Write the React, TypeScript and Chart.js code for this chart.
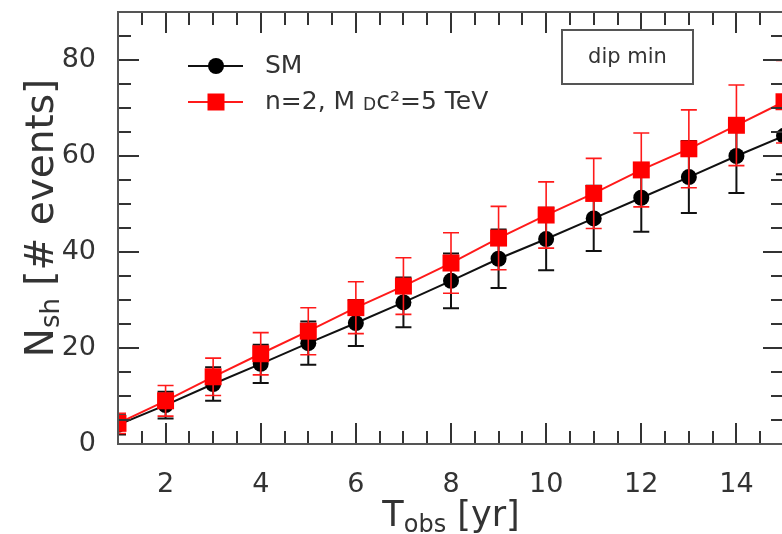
import React, { useEffect, useRef } from "react";
import { Chart, registerables } from "chart.js";

Chart.register(...registerables);

// ---- data ----
const years = [1, 2, 3, 4, 5, 6, 7, 8, 9, 10, 11, 12, 13, 14, 15];
const smValues = [4.0, 8.1, 12.5, 16.7, 21.0, 25.2, 29.5, 34.0, 38.6, 42.7, 47.0, 51.3, 55.6, 60.0, 64.2];
const smErrors = [2.0, 2.8, 3.5, 4.0, 4.5, 4.8, 5.2, 5.7, 6.1, 6.5, 6.8, 7.1, 7.5, 7.7, 8.0];
const bsmValues = [4.3, 9.0, 14.0, 18.8, 23.5, 28.4, 32.9, 37.7, 42.9, 47.7, 52.2, 57.1, 61.5, 66.4, 71.3];
const bsmErrors = [2.1, 3.2, 3.9, 4.4, 4.9, 5.4, 5.9, 6.3, 6.6, 6.9, 7.3, 7.7, 8.1, 8.4, 8.6];
const xTickLabels = [2, 4, 6, 8, 10, 12, 14];
const yTickLabels = [0, 20, 40, 60, 80];
const xRange = [1, 15];
const yRange = [0, 90];
const xMinorStep = 0.5;
const yMinorStep = 5;

const SM_LABEL = "SM";
const BSM_LABEL = "BSM";
const errorMap: Record<string, number[]> = { [SM_LABEL]: smErrors, [BSM_LABEL]: bsmErrors };

const FONT = "'DejaVu Sans', sans-serif";
const TEXT = "#333";

export default function App() {
  const ref = useRef<HTMLCanvasElement>(null);

  useEffect(() => {
    const canvas = ref.current!;

    const errorBars = {
      id: "errorBars",
      beforeDatasetDraw(chart: any, args: any) {
        const ds = chart.data.datasets[args.index];
        const errs = errorMap[ds.label];
        if (!errs) return;
        const ctx = chart.ctx;
        const ys = chart.scales.y;
        const area = chart.chartArea;
        ctx.save();
        ctx.beginPath();
        ctx.rect(area.left, area.top, area.right - area.left, area.bottom - area.top);
        ctx.clip();
        ctx.strokeStyle = ds.label === SM_LABEL ? "#111" : "#ff1a1a";
        ctx.lineWidth = ds.label === SM_LABEL ? 2 : 1.6;
        args.meta.data.forEach((pt: any, i: number) => {
          const v = ds.data[i].y;
          const e = errs[i];
          const yt = ys.getPixelForValue(v + e);
          const yb = ys.getPixelForValue(v - e);
          const x = pt.x;
          ctx.beginPath();
          ctx.moveTo(x, yt);
          ctx.lineTo(x, yb);
          ctx.moveTo(x - 8, yt);
          ctx.lineTo(x + 8, yt);
          ctx.moveTo(x - 8, yb);
          ctx.lineTo(x + 8, yb);
          ctx.stroke();
        });
        ctx.restore();
      },
    };

    const decor = {
      id: "decor",
      afterDraw(chart: any) {
        const ctx = chart.ctx;
        const { left, right, top, bottom } = chart.chartArea;
        const xs = chart.scales.x;
        const ys = chart.scales.y;
        ctx.save();
        // ticks
        ctx.strokeStyle = "#333";
        ctx.lineWidth = 2;
        const MAJ = 21;
        const MIN = 13;
        ctx.beginPath();
        for (let v = xRange[0] + xMinorStep; v < xRange[1] - 1e-9; v += xMinorStep) {
          const px = Math.round(xs.getPixelForValue(v));
          const len = xTickLabels.includes(v) ? MAJ : MIN;
          ctx.moveTo(px, bottom);
          ctx.lineTo(px, bottom - len);
          ctx.moveTo(px, top);
          ctx.lineTo(px, top + len);
        }
        for (let v = yRange[0] + yMinorStep; v < yRange[1] - 1e-9; v += yMinorStep) {
          const py = Math.round(ys.getPixelForValue(v));
          const len = yTickLabels.includes(v) ? MAJ : MIN;
          ctx.moveTo(left, py);
          ctx.lineTo(left + len, py);
          ctx.moveTo(right, py);
          ctx.lineTo(right - len, py);
        }
        ctx.stroke();
        // frame
        ctx.strokeStyle = "#555";
        ctx.lineWidth = 2;
        ctx.strokeRect(left, top, right - left, bottom - top);

        ctx.fillStyle = TEXT;
        ctx.textBaseline = "alphabetic";
        ctx.textAlign = "left";

        const measure = (ps: any[]) =>
          ps.reduce((w, p) => {
            ctx.font = `${p.s}px ${FONT}`;
            return w + ctx.measureText(p.t).width;
          }, 0);

        // x title: T_obs [yr]
        const parts = [
          { t: "T", s: 35, dy: 0 },
          { t: "obs", s: 24, dy: 6 },
          { t: " [yr]", s: 35, dy: 0 },
        ];
        let w = measure(parts);
        let x = (left + right) / 2 - w / 2;
        const xBase = 526;
        parts.forEach((p) => {
          ctx.font = `${p.s}px ${FONT}`;
          ctx.fillText(p.t, x, xBase + p.dy);
          x += ctx.measureText(p.t).width;
        });

        // y title: N_sh [# events]
        const yparts = [
          { t: "N", s: 39, dy: 0 },
          { t: "sh", s: 26, dy: 6 },
          { t: " [# events]", s: 39, dy: 0 },
        ];
        w = measure(yparts);
        ctx.save();
        ctx.translate(53, 218);
        ctx.rotate(-Math.PI / 2);
        x = -w / 2;
        yparts.forEach((p) => {
          ctx.font = `${p.s}px ${FONT}`;
          ctx.fillText(p.t, x, p.dy);
          x += ctx.measureText(p.t).width;
        });
        ctx.restore();

        // legend
        const legendRows = [
          { y: 66, color: "#111", fill: "#000", shape: "circle" },
          { y: 102, color: "#ff1a1a", fill: "#ff0000", shape: "rect" },
        ];
        legendRows.forEach((r) => {
          ctx.strokeStyle = r.color;
          ctx.lineWidth = 2;
          ctx.beginPath();
          ctx.moveTo(188, r.y);
          ctx.lineTo(243, r.y);
          ctx.stroke();
          ctx.fillStyle = r.fill;
          ctx.beginPath();
          if (r.shape === "circle") ctx.arc(216, r.y, 8, 0, Math.PI * 2);
          else ctx.rect(216 - 8.5, r.y - 8.5, 17, 17);
          ctx.fill();
        });
        ctx.fillStyle = TEXT;
        ctx.textBaseline = "middle";
        ctx.font = `25px ${FONT}`;
        ctx.fillText("SM", 265, 66);
        const lparts = [
          { t: "n=2, M ", s: 25, dy: 0 },
          { t: "D", s: 17, dy: 4 },
          { t: "c²=5 TeV", s: 25, dy: 0 },
        ];
        x = 265;
        lparts.forEach((p) => {
          ctx.font = `${p.s}px ${FONT}`;
          ctx.fillText(p.t, x, 102 + p.dy);
          x += ctx.measureText(p.t).width;
        });

        // dip min box
        ctx.strokeStyle = "#555";
        ctx.lineWidth = 2;
        ctx.fillStyle = "#fff";
        ctx.fillRect(562, 30, 131, 54);
        ctx.strokeRect(562, 30, 131, 54);
        ctx.fillStyle = TEXT;
        ctx.textAlign = "center";
        ctx.font = `21px ${FONT}`;
        ctx.fillText("dip min", 627.5, 58);
        ctx.restore();
      },
    };

    const chart = new Chart(canvas, {
      type: "line",
      data: {
        datasets: [
          {
            label: SM_LABEL,
            data: years.map((t, i) => ({ x: t, y: smValues[i] })),
            borderColor: "#111",
            borderWidth: 2,
            pointStyle: "circle",
            pointRadius: 8,
            pointBackgroundColor: "#000",
            pointBorderColor: "#000",
            pointBorderWidth: 0,
            order: 2,
          },
          {
            label: BSM_LABEL,
            data: years.map((t, i) => ({ x: t, y: bsmValues[i] })),
            borderColor: "#ff1a1a",
            borderWidth: 2,
            pointStyle: "rect",
            pointRadius: 12,
            pointBackgroundColor: "#ff0000",
            pointBorderColor: "#ff0000",
            pointBorderWidth: 0,
            order: 1,
          },
        ],
      },
      options: {
        responsive: false,
        animation: false,
        devicePixelRatio: 1,
        layout: { padding: { top: 8, right: 0, left: 0, bottom: 0 } },
        plugins: { legend: { display: false }, tooltip: { enabled: false } },
        scales: {
          x: {
            type: "linear",
            min: xRange[0],
            max: xRange[1],
            grid: { display: false },
            border: { display: false },
            afterBuildTicks: (s: any) => {
              s.ticks = xTickLabels.map((v) => ({ value: v }));
            },
            afterFit: (s: any) => {
              s.height = 90;
              s.paddingLeft = 0;
              s.paddingRight = 0;
              s.paddingTop = 0;
              s.paddingBottom = 0;
            },
            ticks: {
              autoSkip: false,
              maxRotation: 0,
              padding: 17,
              color: TEXT,
              font: { family: FONT, size: 27 },
            },
          },
          y: {
            type: "linear",
            min: yRange[0],
            max: yRange[1],
            grid: { display: false },
            border: { display: false },
            afterBuildTicks: (s: any) => {
              s.ticks = yTickLabels.map((v) => ({ value: v }));
            },
            afterFit: (s: any) => {
              s.width = 118;
              s.paddingLeft = 0;
              s.paddingRight = 0;
              s.paddingTop = 0;
              s.paddingBottom = 0;
            },
            ticks: {
              autoSkip: false,
              padding: 14,
              color: TEXT,
              font: { family: FONT, size: 27 },
            },
          },
        },
      },
      plugins: [errorBars, decor],
    } as any);

    return () => chart.destroy();
  }, []);

  return (
    <div style={{ position: "fixed", left: 0, top: 0, width: 782, height: 534, overflow: "hidden", background: "#fff" }}>
      <canvas ref={ref} width={796} height={534} style={{ display: "block", width: 796, height: 534 }} />
    </div>
  );
}
